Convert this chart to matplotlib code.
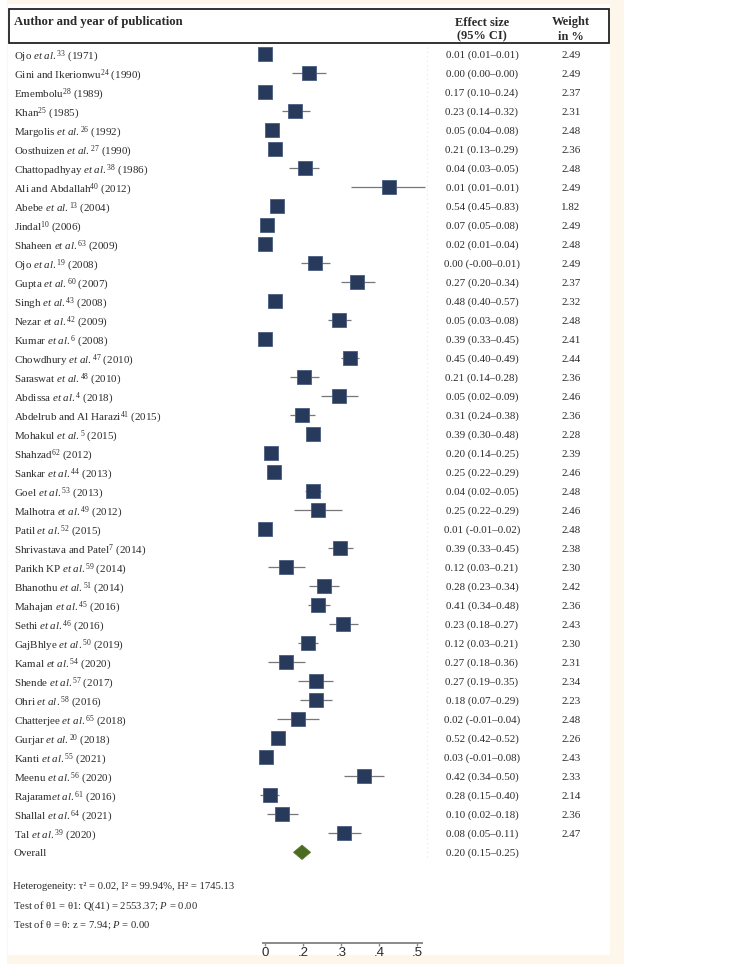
import matplotlib
matplotlib.use("Agg")
import matplotlib.pyplot as plt
import matplotlib.transforms as mtransforms
from matplotlib.patches import Rectangle, Polygon

# ---------------- data ----------------
authors = ["Ojo et al.", "Gini and Ikerionwu", "Emembolu", "Khan", "Margolis et al.",
           "Oosthuizen et al.", "Chattopadhyay et al.", "Ali and Abdallah", "Abebe et al.",
           "Jindal", "Shaheen et al.", "Ojo et al.", "Gupta et al.", "Singh et al.",
           "Nezar et al.", "Kumar et al.", "Chowdhury et al.", "Saraswat et al.",
           "Abdissa et al.", "Abdelrub and Al Harazi", "Mohakul et al.", "Shahzad",
           "Sankar et al.", "Goel et al.", "Malhotra et al.", "Patil et al.",
           "Shrivastava and Patel", "Parikh KP et al.", "Bhanothu et al.", "Mahajan et al.",
           "Sethi et al.", "GajBhlye et al.", "Kamal et al.", "Shende et al.", "Ohri et al.",
           "Chatterjee et al.", "Gurjar et al.", "Kanti et al.", "Meenu et al.",
           "Rajaramet al.", "Shallal et al.", "Tal et al."]
refs = [33, 24, 28, 25, 26, 27, 38, 40, 13, 10, 63, 19, 60, 43, 42, 6, 47, 48, 4, 41, 5, 62,
        44, 53, 49, 52, 7, 59, 51, 45, 46, 50, 54, 57, 58, 65, 20, 55, 56, 61, 64, 39]
years = [1971, 1990, 1989, 1985, 1992, 1990, 1986, 2012, 2004, 2006, 2009, 2008, 2007, 2008,
         2009, 2008, 2010, 2010, 2018, 2015, 2015, 2012, 2013, 2013, 2012, 2015, 2014, 2014,
         2014, 2016, 2016, 2019, 2020, 2017, 2016, 2018, 2018, 2021, 2020, 2016, 2021, 2020]

# table columns (as printed)
es_txt = [0.01, 0.00, 0.17, 0.23, 0.05, 0.21, 0.04, 0.01, 0.54, 0.07, 0.02, 0.00, 0.27, 0.48,
          0.05, 0.39, 0.45, 0.21, 0.05, 0.31, 0.39, 0.20, 0.25, 0.04, 0.25, 0.01, 0.39, 0.12,
          0.28, 0.41, 0.23, 0.12, 0.27, 0.27, 0.18, 0.02, 0.52, 0.03, 0.42, 0.28, 0.10, 0.08]
lo_txt = [0.01, 0.00, 0.10, 0.14, 0.04, 0.13, 0.03, 0.01, 0.45, 0.05, 0.01, -0.001, 0.20, 0.40,
          0.03, 0.33, 0.40, 0.14, 0.02, 0.24, 0.30, 0.14, 0.22, 0.02, 0.22, -0.01, 0.33, 0.03,
          0.23, 0.34, 0.18, 0.03, 0.18, 0.19, 0.07, -0.01, 0.42, -0.01, 0.34, 0.15, 0.02, 0.05]
hi_txt = [0.01, 0.00, 0.24, 0.32, 0.08, 0.29, 0.05, 0.01, 0.83, 0.08, 0.04, 0.01, 0.34, 0.57,
          0.08, 0.45, 0.49, 0.28, 0.09, 0.38, 0.48, 0.25, 0.29, 0.05, 0.29, 0.02, 0.45, 0.21,
          0.34, 0.48, 0.27, 0.21, 0.36, 0.35, 0.29, 0.04, 0.52, 0.08, 0.50, 0.40, 0.18, 0.11]
weights = [2.49, 2.49, 2.37, 2.31, 2.48, 2.36, 2.48, 2.49, 1.82, 2.49, 2.48, 2.49, 2.37, 2.32,
           2.48, 2.41, 2.44, 2.36, 2.46, 2.36, 2.28, 2.39, 2.46, 2.48, 2.46, 2.48, 2.38, 2.30,
           2.42, 2.36, 2.43, 2.30, 2.31, 2.34, 2.23, 2.48, 2.26, 2.43, 2.33, 2.14, 2.36, 2.47]

# plotted markers (as drawn in the graph)
plot_es = [0.00, 0.23, 0.00, 0.16, 0.035, 0.05, 0.21, 0.65, 0.065, 0.01, 0.00, 0.265, 0.485,
           0.05, 0.39, 0.00, 0.445, 0.205, 0.39, 0.195, 0.25, 0.03, 0.045, 0.25, 0.28, 0.00,
           0.395, 0.11, 0.31, 0.28, 0.41, 0.225, 0.11, 0.267, 0.267, 0.175, 0.068, 0.007,
           0.523, 0.025, 0.092, 0.417]
plot_lo = [0.00, 0.14, 0.00, 0.09, 0.02, 0.04, 0.125, 0.455, 0.05, 0.00, 0.00, 0.19, 0.40,
           0.04, 0.33, 0.00, 0.40, 0.13, 0.295, 0.13, 0.22, 0.02, 0.012, 0.21, 0.15, 0.00,
           0.33, 0.017, 0.23, 0.228, 0.337, 0.172, 0.017, 0.175, 0.183, 0.065, 0.05, 0.00,
           0.417, -0.026, 0.012, 0.33]
plot_hi = [0.00, 0.32, 0.00, 0.237, 0.05, 0.06, 0.286, 0.84, 0.08, 0.02, 0.00, 0.342, 0.58,
           0.06, 0.455, 0.00, 0.496, 0.283, 0.488, 0.265, 0.29, 0.04, 0.08, 0.295, 0.407, 0.00,
           0.465, 0.21, 0.39, 0.34, 0.488, 0.277, 0.21, 0.358, 0.351, 0.286, 0.08, 0.015,
           0.628, 0.075, 0.175, 0.505]

overall_txt = (0.20, 0.15, 0.25)
overall_plot = (0.195, 0.15, 0.24)

xtick_pos = [0, 0.2, 0.4, 0.6, 0.8]
xtick_labels = ["0", ".2", ".3", ".4", ".5"]

stats_lines = [
    "Heterogeneity: τ² = 0.02, I² = 99.94%, H² = 1745.13",
    r"Test of θ1 = θ1: Q(41) = 2553.37; $\mathit{P}$ = 0.00",
    r"Test of θ = θ: z = 7.94; $\mathit{P}$ = 0.00",
]

# ---------------- style ----------------
SERIF = "Liberation Serif"
plt.rcParams["font.family"] = [SERIF, "DejaVu Serif"]
plt.rcParams["mathtext.fontset"] = "custom"
plt.rcParams["mathtext.rm"] = SERIF
plt.rcParams["mathtext.it"] = SERIF + ":italic"
plt.rcParams["mathtext.bf"] = SERIF + ":bold"

TXT = "#2b2b2b"
BOX = "#283a5c"
DIAM = "#4d6a22"
FS = 7.9
HFS = 9.2

W, H = 732, 964
fig = plt.figure(figsize=(W / 100, H / 100), dpi=100)
fig.patch.set_facecolor("white")


def fx(px):
    return px / W


def fy(py):
    return 1 - py / H


# page background (cream margin + white panel)
fig.add_artist(Rectangle((fx(7), 0), fx(624) - fx(7), 1, transform=fig.transFigure,
                         facecolor="#fdf6eb", edgecolor="none", zorder=0))
fig.add_artist(Rectangle((fx(8), fy(955)), fx(610) - fx(8), fy(4) - fy(955),
                         transform=fig.transFigure, facecolor="white", edgecolor="none", zorder=0))

# header box
fig.add_artist(Rectangle((fx(9), fy(43)), fx(609) - fx(9), fy(9) - fy(43),
                         transform=fig.transFigure, facecolor="none", edgecolor="#222222",
                         linewidth=1.3, zorder=2))
fig.text(fx(14), fy(21), "Author and year of publication", ha="left", va="center_baseline",
         fontsize=HFS, fontweight="bold", color=TXT)
fig.text(fx(482), fy(21), "Effect size", ha="center", va="center_baseline",
         fontsize=HFS - 0.3, fontweight="bold", color=TXT)
fig.text(fx(482), fy(35), "(95% CI)", ha="center", va="center_baseline",
         fontsize=HFS - 0.3, fontweight="bold", color=TXT)
fig.text(fx(571), fy(21), "Weight", ha="center", va="center_baseline",
         fontsize=HFS - 0.3, fontweight="bold", color=TXT)
fig.text(fx(571), fy(35), "in %", ha="center", va="center_baseline",
         fontsize=HFS - 0.3, fontweight="bold", color=TXT)

# forest plot axes
ax = fig.add_axes([fx(250), fy(943), fx(440) - fx(250), fy(45) - fy(943)])
ax.set_facecolor("none")
x0_px, unit_px = 265, 190
ax.set_xlim((250 - x0_px) / unit_px, (440 - x0_px) / unit_px)
row0_px, row_px = 54.3, 19.0
ax.set_ylim((943 - row0_px) / row_px, (45 - row0_px) / row_px)

for s in ["top", "right", "left"]:
    ax.spines[s].set_visible(False)
ax.spines["bottom"].set_color("#8a8a8a")
ax.spines["bottom"].set_linewidth(1.4)
ax.spines["bottom"].set_bounds(-0.012, 0.828)
ax.set_yticks([])
ax.set_xticks(xtick_pos)
ax.set_xticklabels(xtick_labels, fontfamily="Liberation Sans", fontsize=9.5, color="#2a2a2a")
ax.tick_params(axis="x", length=2.5, width=1, color="#8a8a8a", pad=0.2)

n = len(authors)
rows = list(range(n))

# faint right plot boundary
ax.plot([0.853, 0.853], [-0.4, n + 0.4], color="#f6e3d2", lw=0.8, ls=(0, (1, 3)), zorder=1)

# CI lines and boxes
for i in rows:
    ax.plot([plot_lo[i], plot_hi[i]], [i, i], color="#777777", lw=0.9, zorder=2,
            solid_capstyle="butt")
ax.plot(plot_es, rows, linestyle="none", marker="s", markersize=10.2,
        markerfacecolor=BOX, markeredgecolor="#4a5d82", markeredgewidth=0.6, zorder=3)

# overall diamond
oy = n
ov, olo, ohi = overall_plot
hh = 7.2 / row_px
ax.add_patch(Polygon([(olo, oy), (ov, oy - hh), (ohi, oy), (ov, oy + hh)], closed=True,
                     facecolor=DIAM, edgecolor="#5c7a30", linewidth=0.6, zorder=3))

# text columns
trans = mtransforms.blended_transform_factory(fig.transFigure, ax.transData)


def fmt_label(a, r, y):
    if a.endswith("et al."):
        base = a[: -len("et al.")]
        return base + r"$\mathit{et\ al.}$$^{\mathrm{%d}}$ (%d)" % (r, y)
    return a + r"$^{\mathrm{%d}}$ (%d)" % (r, y)


def fmt_es(e, l, h):
    return "%.2f (%.2f\u2013%.2f)" % (e, l, h)


for i in rows:
    ax.text(fx(14), i, fmt_label(authors[i], refs[i], years[i]), transform=trans,
            ha="left", va="center_baseline", fontsize=FS, color=TXT, clip_on=False)
    ax.text(fx(482), i, fmt_es(es_txt[i], lo_txt[i], hi_txt[i]), transform=trans,
            ha="center", va="center_baseline", fontsize=FS, color=TXT, clip_on=False)
    ax.text(fx(571), i, "%.2f" % weights[i], transform=trans,
            ha="center", va="center_baseline", fontsize=FS, color=TXT, clip_on=False)

ax.text(fx(14), oy, "Overall", transform=trans, ha="left", va="center_baseline",
        fontsize=FS, color=TXT, clip_on=False)
ax.text(fx(482), oy, fmt_es(*overall_txt), transform=trans, ha="center",
        va="center_baseline", fontsize=FS, color=TXT, clip_on=False)

# heterogeneity statistics
for k, line in enumerate(stats_lines):
    fig.text(fx(12.5), fy(885.7 + 18.7 * k), line, ha="left", va="center_baseline",
             fontsize=FS - 0.2, color=TXT)

fig.savefig("out.png", dpi=100, facecolor=fig.get_facecolor())
